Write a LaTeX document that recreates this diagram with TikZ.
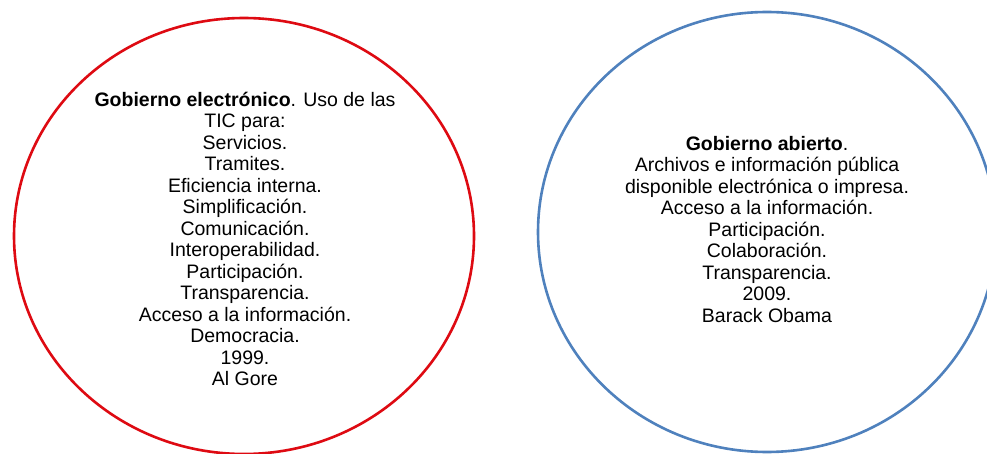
\documentclass[tikz,border=0pt]{standalone}
\usepackage{fontspec}
\setmainfont{Liberation Sans}
\usepackage{xcolor}
\usepackage{tikz}
\usetikzlibrary{positioning}

\definecolor{rojoanillo}{RGB}{222,10,18}
\definecolor{azulanillo}{RGB}{79,129,189}

\tikzset{
    anillo/.style = {line width = 2.6pt},
    bloque/.style = {align = center, inner sep = 0pt,
        font = \fontsize{19.5}{21.5}\selectfont}
}

\begin{document}
\begin{tikzpicture}[x = 1pt, y = -1pt]
    \useasboundingbox (0, 0) rectangle (987, 454);
    \clip (0, 0) rectangle (987, 454);

    \draw[anillo, rojoanillo] (244, 236) ellipse [x radius = 230, y radius = 218];
    \draw[anillo, azulanillo] (767, 232) ellipse [x radius = 229, y radius = 220];

    \node[bloque] (electronico) at (245, 239) {\textbf{Gobierno electrónico}. Uso de las\\
        TIC para:\\ Servicios.\\ Tramites.\\ Eficiencia interna.\\ Simplificación.\\
        Comunicación.\\ Interoperabilidad.\\ Participación.\\ Transparencia.\\
        Acceso a la información.\\ Democracia.\\ 1999.\\ Al Gore};

    \node[bloque] (abierto) at (767, 229.5) {\textbf{Gobierno abierto}.\\
        Archivos e información pública\\ disponible electrónica o impresa.\\
        Acceso a la información.\\ Participación.\\ Colaboración.\\
        Transparencia.\\ 2009.\\ Barack Obama};
\end{tikzpicture}
\end{document}
